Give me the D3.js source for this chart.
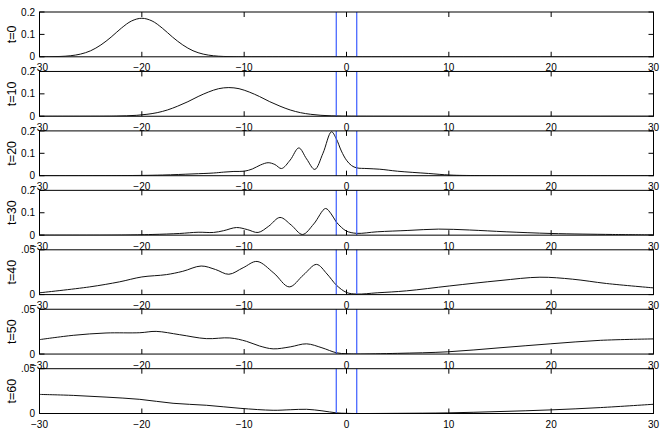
<!DOCTYPE html>
<html>
<head>
<meta charset="utf-8">
<script src="https://cdn.jsdelivr.net/npm/d3@7/dist/d3.min.js"></script>
<style>
  html, body { margin: 0; padding: 0; background: #fff; }
  svg { display: block; }
  text { font-family: "Liberation Sans", Arial, Helvetica, sans-serif; fill: #000; }
</style>
</head>
<body>
<svg id="chart" width="664" height="432"></svg>
<script>
// ---------------- data ----------------
const panelLabels = ["t=0", "t=10", "t=20", "t=30", "t=40", "t=50", "t=60"];
const xTicks = [-30, -20, -10, 0, 10, 20, 30];
const xTickLabels = ["\u221230", "\u221220", "\u221210", "0", "10", "20", "30"];
const yMaxes = [0.2, 0.2, 0.2, 0.2, 0.05, 0.05, 0.05];
const yTicksLarge = [0, 0.1, 0.2];
const yTickLabelsLarge = ["0", "0.1", "0.2"];
const yTicksSmall = [0, 0.05];
const yTickLabelsSmall = ["0", ".05"];
const barrier = [-1, 1];

const x_t0 = [-30,-29,-28,-27,-26,-25,-24,-23,-22,-21,-20,-19,-18,-17,-16,-15,-14,-13,-12,-11,-10,0,30];
const y_t0 = [0.0001,0.0004,0.0015,0.0046,0.012,0.027,0.053,0.088,0.128,0.160,0.172,0.160,0.128,0.088,0.053,0.027,0.012,0.0046,0.0015,0.0004,0.0001,0,0];

const x_t10 = [-30,-23.5,-22.5,-21.5,-20.5,-19.5,-18.5,-17.5,-16.5,-15.5,-14.5,-13.5,-12.5,-11.5,-10.5,-9.5,-8.5,-7.5,-6.5,-5.5,-4.5,-3.5,-2.5,-1.5,-0.5,0.5,30];
const y_t10 = [0,0.0003,0.0008,0.0019,0.0042,0.0087,0.016,0.028,0.045,0.065,0.088,0.108,0.123,0.128,0.123,0.108,0.088,0.065,0.045,0.028,0.016,0.0087,0.0042,0.0019,0.0008,0.0003,0];

const x_t20 = [-30,-22,-18,-15,-13,-12,-11,-10,-9.2,-8.4,-7.66,-7,-6.35,-5.5,-4.66,-3.9,-3.1,-2.3,-1.47,-1,-0.5,0,0.5,1,2,3.25,5,8,10.1,13,30];
const y_t20 = [0,0.0005,0.003,0.008,0.012,0.016,0.019,0.02,0.03,0.048,0.058,0.05,0.032,0.07,0.124,0.075,0.028,0.1,0.196,0.165,0.11,0.069,0.045,0.035,0.032,0.029,0.02,0.01,0.003,0.0005,0];

const x_t30 = [-30,-22,-19,-16.3,-14.5,-13,-12,-10.75,-9.7,-8.64,-7.6,-6.5,-5.4,-4.3,-3.2,-2.05,-1.5,-1,-0.5,0,1,3,6,9,12,15.6,20,26,30];
const y_t30 = [0,0.0005,0.003,0.0075,0.013,0.012,0.02,0.034,0.025,0.012,0.04,0.079,0.045,0.003,0.05,0.119,0.095,0.059,0.035,0.018,0.008,0.015,0.021,0.027,0.023,0.015,0.0075,0.003,0.001];

const x_t40 = [-30,-25.1,-22.2,-20,-17.6,-16,-14.2,-12.8,-11.5,-10.1,-8.74,-7.1,-5.6,-4.2,-2.93,-1.9,-0.98,0,1,3,5.87,10.1,15,18.9,22.1,25.4,30];
const y_t40 = [0.002,0.0086,0.0142,0.0197,0.0223,0.026,0.0319,0.028,0.0227,0.03,0.037,0.024,0.0086,0.022,0.0337,0.023,0.0105,0.0024,0.0006,0.002,0.0042,0.0097,0.0157,0.0194,0.0172,0.0124,0.0075];

const x_t50 = [-30,-26.7,-23.5,-20.2,-18.6,-16.3,-13.7,-11.4,-9.78,-8.5,-7.17,-5.5,-3.9,-2.4,-0.98,0,1,5,9.9,15,19.9,24.8,30];
const y_t50 = [0.0161,0.0209,0.0235,0.0238,0.0253,0.0216,0.0172,0.018,0.0142,0.009,0.0058,0.008,0.0114,0.007,0.0014,0.0003,0,0.0008,0.0025,0.007,0.0114,0.0153,0.0169];

const x_t60 = [-30,-26.7,-23.5,-20.2,-16.95,-13.7,-10.4,-7.17,-5.5,-3.9,-2.4,-0.98,0,1,5,9.9,15,19.9,24.8,30];
const y_t60 = [0.0213,0.0202,0.0183,0.0158,0.0114,0.0092,0.0058,0.0036,0.0042,0.0047,0.003,0.0007,0.0002,0,0.0002,0.0007,0.0022,0.004,0.0066,0.0103];

const seriesX = [x_t0, x_t10, x_t20, x_t30, x_t40, x_t50, x_t60];
const seriesY = [y_t0, y_t10, y_t20, y_t30, y_t40, y_t50, y_t60];

// ---------------- layout ----------------
const svg = d3.select("#chart");
const left = 39.5, right = 653.5;
const firstTop = 12, step = 59.45, panelH = 44.8;
const tickLen = 5;

const x = d3.scaleLinear().domain([-30, 30]).range([left, right]);

seriesX.forEach((xs, i) => {
  const top = firstTop + step * i;
  const bottom = top + panelH;
  const yMax = yMaxes[i];
  const y = d3.scaleLinear().domain([0, yMax]).range([bottom, top]);
  const yTicks = yMax > 0.1 ? yTicksLarge : yTicksSmall;
  const yLabels = yMax > 0.1 ? yTickLabelsLarge : yTickLabelsSmall;
  const g = svg.append("g");

  const clipId = "clip" + i;
  svg.append("clipPath").attr("id", clipId)
    .append("rect").attr("x", left).attr("y", top).attr("width", right - left).attr("height", panelH);

  // curve
  const pts = xs.map((v, k) => [v, seriesY[i][k]]);
  const line = d3.line()
    .x(d => x(d[0]))
    .y(d => y(Math.max(0, d[1])))
    .curve(d3.curveCatmullRom.alpha(0.5));
  g.append("path")
    .attr("clip-path", `url(#${clipId})`)
    .attr("d", line(pts))
    .attr("fill", "none")
    .attr("stroke", "#111")
    .attr("stroke-width", 1);

  // barrier lines
  g.selectAll(".bar-line").data(barrier).enter().append("line")
    .attr("x1", d => x(d)).attr("x2", d => x(d))
    .attr("y1", top).attr("y2", bottom)
    .attr("stroke", "#3a5cff").attr("stroke-width", 1.2);

  // box
  g.append("rect")
    .attr("x", left).attr("y", top)
    .attr("width", right - left).attr("height", panelH)
    .attr("fill", "none").attr("stroke", "#000").attr("stroke-width", 1);

  // x ticks (inward, top and bottom)
  xTicks.forEach(t => {
    g.append("line").attr("x1", x(t)).attr("x2", x(t)).attr("y1", bottom).attr("y2", bottom - tickLen)
      .attr("stroke", "#000").attr("stroke-width", 1);
    g.append("line").attr("x1", x(t)).attr("x2", x(t)).attr("y1", top).attr("y2", top + tickLen)
      .attr("stroke", "#000").attr("stroke-width", 1);
  });
  g.selectAll(".xlab").data(xTicks).enter().append("text")
    .attr("x", d => x(d)).attr("y", bottom + 14.5)
    .attr("text-anchor", "middle")
    .attr("font-size", 10)
    .text((d, k) => xTickLabels[k]);

  // y ticks (inward, left and right)
  yTicks.forEach(t => {
    g.append("line").attr("x1", left).attr("x2", left + tickLen).attr("y1", y(t)).attr("y2", y(t))
      .attr("stroke", "#000").attr("stroke-width", 1);
    g.append("line").attr("x1", right).attr("x2", right - tickLen).attr("y1", y(t)).attr("y2", y(t))
      .attr("stroke", "#000").attr("stroke-width", 1);
  });
  g.selectAll(".ylab").data(yTicks).enter().append("text")
    .attr("x", 35).attr("y", d => y(d))
    .attr("dy", "0.36em")
    .attr("text-anchor", "end")
    .attr("font-size", 10)
    .text((d, k) => yLabels[k]);

  // panel label
  g.append("text")
    .attr("transform", `translate(15.5,${(top + bottom) / 2}) rotate(-90)`)
    .attr("text-anchor", "middle")
    .attr("font-size", 12.5)
    .text(panelLabels[i]);
});
</script>
</body>
</html>
